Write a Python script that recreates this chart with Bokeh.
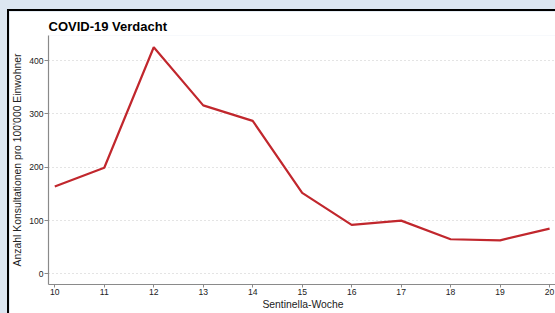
from bokeh.plotting import figure
from bokeh.embed import file_html
from bokeh.resources import INLINE
from bokeh.models import Range1d, FixedTicker

weeks = [10, 11, 12, 13, 14, 15, 16, 17, 18, 19, 20]
values = [164, 199, 425, 316, 287, 152, 92, 100, 65, 63, 85]
y_ticks = [0, 100, 200, 300, 400]

p = figure(width=548, height=304, output_backend="svg", toolbar_location=None,
           x_range=Range1d(9.873, 20.16), y_range=Range1d(-19.8, 447),
           title="COVID-19 Verdacht")
p.styles = {"border-left": "2px solid black", "border-top": "2px solid black"}
p.min_border_left = 37
p.min_border_right = 0
p.min_border_top = 24
p.min_border_bottom = 31
p.outline_line_color = None
p.background_fill_color = "white"
p.border_fill_color = "white"

p.title.text_font = "Liberation Sans"
p.title.text_font_size = "13px"
p.title.text_font_style = "bold"
p.title.text_color = "black"
p.title.align = "left"
p.title.standoff = 4
p.title.offset = 0

p.line(weeks, values, line_color="#c1272d", line_width=2.2)

p.xaxis.ticker = FixedTicker(ticks=weeks)
p.yaxis.ticker = FixedTicker(ticks=y_ticks)
p.xaxis.axis_label = "Sentinella-Woche"
p.yaxis.axis_label = "Anzahl Konsultationen pro 100'000 Einwohner"
for ax in (p.xaxis, p.yaxis):
    ax.axis_label_text_font = "Liberation Sans"
    ax.axis_label_text_font_style = "normal"
    ax.axis_label_text_font_size = "10.4px"
    ax.axis_label_text_color = "#222222"
    ax.axis_label_standoff = 2
    ax.major_label_text_font = "Liberation Sans"
    ax.major_label_text_font_size = "8.6px"
    ax.major_label_text_color = "#222222"
    ax.axis_line_color = "#8a8a8a"
    ax.axis_line_width = 1.2
    ax.major_tick_line_color = "#8a8a8a"
    ax.major_tick_in = 0
    ax.minor_tick_line_color = None
p.yaxis.major_tick_out = 4
p.yaxis.major_label_standoff = 1
p.yaxis.axis_label_standoff = 3
p.xaxis.major_tick_out = 3
p.xaxis.major_label_standoff = 1
p.xaxis.axis_label_standoff = 1

p.xgrid.grid_line_color = None
p.ygrid.grid_line_color = "#c8c8c8"
p.ygrid.grid_line_dash = "1 3"
p.ygrid.grid_line_width = 1

html = file_html(p, INLINE)
css = ("<style>html, body { background-color:#dce6f1 !important; overflow:hidden !important; }"
       " body { padding: 9px 0 0 7px !important; margin: 0 !important; }</style>")
html = html.replace("</head>", css + "</head>", 1)
open("out.html", "w").write(html)
